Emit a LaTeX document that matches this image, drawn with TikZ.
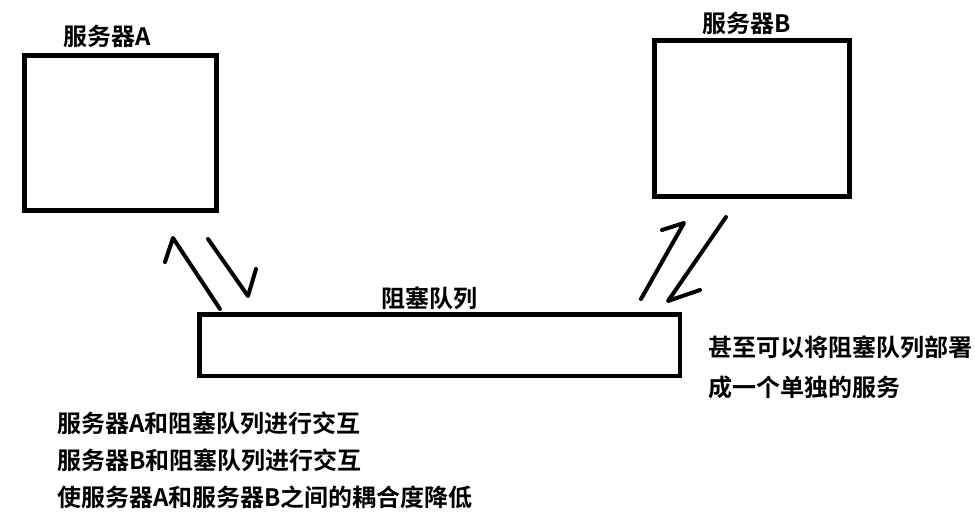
\documentclass[tikz,border=0pt]{standalone}
\usepackage{fontspec}
\setmainfont{Noto Sans CJK SC}[BoldFont={* Bold}]
\newfontfamily\cjkb{Noto Sans CJK SC Bold}
\begin{document}
\begin{tikzpicture}[x=1pt,y=-1pt,
  box/.style={draw=black,line width=4.5pt,fill=white,inner sep=0pt,anchor=north west},
  lbl/.style={inner sep=0pt,font=\cjkb\fontsize{24}{28}\selectfont},
  note/.style={lbl,anchor=west},
  stroke/.style={line width=4pt,line cap=round,line join=round}]
\useasboundingbox (0,0) rectangle (975,530);
% boxes
\node[box,minimum width=192pt,minimum height=155pt] (A) at (22,53) {};
\node[box,minimum width=195pt,minimum height=156pt] (B) at (652,38) {};
\node[box,minimum width=480.5pt,minimum height=61.5pt] (Q) at (197,312) {};
% labels
\node[lbl] (la) at (107,36) {服务器A};
\node[lbl] (lb) at (747,23) {服务器B};
\node[lbl] (lq) at (429,298) {阻塞队列};
\node[note] (r1) at (708,347) {甚至可以将阻塞队列部署};
\node[note] (r2) at (708,387) {成一个单独的服务};
\node[note] (n1) at (57,423) {服务器A和阻塞队列进行交互};
\node[note] (n2) at (57,460) {服务器B和阻塞队列进行交互};
\node[note] (n3) at (57,497) {使服务器A和服务器B之间的耦合度降低};
% hand-drawn half arrows
\coordinate (a1s) at (220,309);
\coordinate (a1t) at (173,238);
\coordinate (a1b) at (165,262);
\coordinate (a2s) at (208,239);
\coordinate (a2t) at (248,296);
\coordinate (a2b) at (256,269);
\coordinate (b1s) at (641,299);
\coordinate (b1t) at (684,223);
\coordinate (b1b) at (662,230);
\coordinate (b2s) at (726,217);
\coordinate (b2t) at (668,301);
\coordinate (b2b) at (700,290);
\draw[stroke] (a1s) -- (a1t) -- (a1b);
\draw[stroke] (a2s) -- (a2t) -- (a2b);
\draw[stroke] (b1s) -- (b1t) -- (b1b);
\draw[stroke] (b2s) -- (b2t) -- (b2b);
\end{tikzpicture}
\end{document}
